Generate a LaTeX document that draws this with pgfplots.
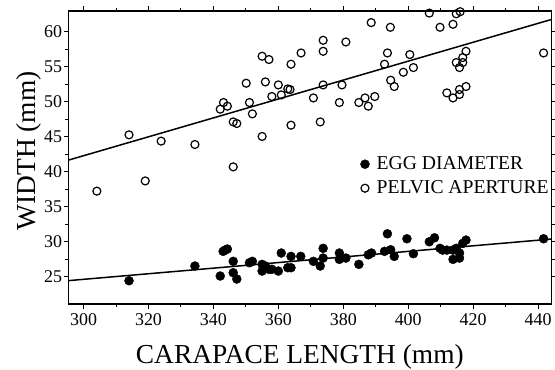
\documentclass[border=0pt]{standalone}
\usepackage{fontspec}
\setmainfont{Liberation Serif}
\usepackage{pgfplots}
\pgfplotsset{compat=1.18}
\begin{document}
\begin{tikzpicture}
\useasboundingbox (-68.3bp,-66bp) rectangle (486.7bp,304bp);
\begin{axis}[
  scale only axis,
  width=483.4bp, height=293bp,
  xmin=295.3, xmax=444.2, ymin=21.1, ymax=63,
  xtick={300,320,...,440}, ytick={25,30,...,60},
  minor x tick num=1, minor y tick num=1,
  tick align=outside,
  major tick length=4.5bp, minor tick length=3bp,
  axis line style={line width=1.2bp},
  every tick/.style={black, line width=1bp},
  /pgf/number format/assume math mode=true,
  tick label style={font=\fontsize{18}{20}\selectfont},
  yticklabel style={inner sep=1.5bp},
  xticklabel style={inner sep=5bp},
  xlabel={CARAPACE LENGTH (mm)},
  ylabel={WIDTH (mm)},
  label style={font=\fontsize{27.5}{30}\selectfont},
  xlabel style={at={(axis description cs:0.479,-0.2045)}, anchor=base},
  ylabel style={at={(axis description cs:-0.0813,0.523)}, anchor=center},
  legend cell align=left,
  legend style={at={(axis description cs:0.603,0.5085)}, anchor=north west,
    draw=none, fill=none, font=\fontsize{19.7}{22}\selectfont,
    row sep=6bp, inner sep=0pt,
    nodes={inner sep=0pt, text height=14bp, text depth=4bp}},
  legend image code/.code={\draw[#1] plot coordinates {(5bp,0bp)}; \path[draw=none,fill=none] (0bp,-0.1bp) rectangle (16.7bp,0.1bp);},
]
\addplot[black, line width=1.5bp, forget plot] coordinates {(295.3,24.44) (444.2,30.39)};
\addplot[black, line width=1.5bp, forget plot] coordinates {(295.3,41.67) (444.2,61.8)};
\addplot[only marks, mark=*, mark size=4.5bp, mark options={fill=black, draw=black}] coordinates {
(314.0,24.43) (334.3,26.53) (342.1,25.1) (343.0,28.63) (343.6,28.81) (344.3,28.96)
(346.1,27.2) (346.1,25.57) (347.2,24.67) (351.1,27.0) (352.0,27.2) (355.0,26.77)
(355.0,25.81) (356.0,26.53) (357.1,26.06) (358.0,26.06) (360.0,25.81) (360.9,28.39)
(362.9,26.29) (363.9,26.29) (363.9,27.91) (366.9,27.91) (370.8,27.2) (372.9,26.53)
(373.8,27.67) (373.8,29.06) (378.8,28.39) (378.8,27.48) (380.8,27.67) (384.8,26.77)
(387.7,28.14) (388.7,28.39) (392.7,28.63) (393.6,31.14) (394.6,28.86) (395.7,27.91)
(399.6,30.43) (401.6,28.29) (406.5,30.0) (408.1,30.57) (409.8,29.06) (410.6,28.81)
(411.9,28.81) (413.8,28.81) (414.8,29.06) (413.8,27.48) (415.8,27.67) (415.8,28.39)
(416.8,29.77) (417.8,30.24) (441.7,30.43)
};
\addlegendentry{EGG DIAMETER}
\addplot[only marks, mark=o, mark size=4bp, mark options={draw=black, line width=1.2bp, fill=white}] coordinates {
(304.1,37.24) (314.0,45.29) (319.0,38.7) (323.9,44.39) (334.3,43.91) (342.1,48.96)
(343.1,49.91) (344.3,49.39) (346.1,40.71) (346.1,47.14) (347.2,46.91) (350.1,52.67)
(351.1,49.91) (352.0,48.29) (355.0,56.53) (355.0,45.06) (356.0,52.86) (357.1,56.06)
(358.0,50.77) (360.0,52.43) (360.9,51.0) (362.9,51.86) (363.6,51.77) (363.9,55.39)
(363.9,46.67) (367.0,57.0) (370.8,50.57) (372.9,47.14) (373.8,58.81) (373.8,57.24)
(373.8,52.43) (378.8,49.91) (379.6,52.43) (380.8,58.57) (384.8,49.91) (386.7,50.57)
(387.7,49.39) (388.6,61.34) (389.7,50.77) (392.7,55.39) (393.6,57.0) (394.5,60.67)
(394.6,53.1) (395.7,52.2) (398.5,54.24) (400.5,56.77) (401.6,54.91) (406.5,62.7)
(409.8,60.67) (411.9,51.29) (413.8,61.1) (413.8,50.57) (414.8,62.6) (414.8,55.63)
(415.8,54.91) (415.8,51.77) (415.8,51.06) (416.0,62.9) (416.8,56.34) (416.8,55.63)
(417.8,57.24) (417.8,52.2) (441.7,57.0)
};
\addlegendentry{PELVIC APERTURE}
\end{axis}
\end{tikzpicture}
\end{document}
